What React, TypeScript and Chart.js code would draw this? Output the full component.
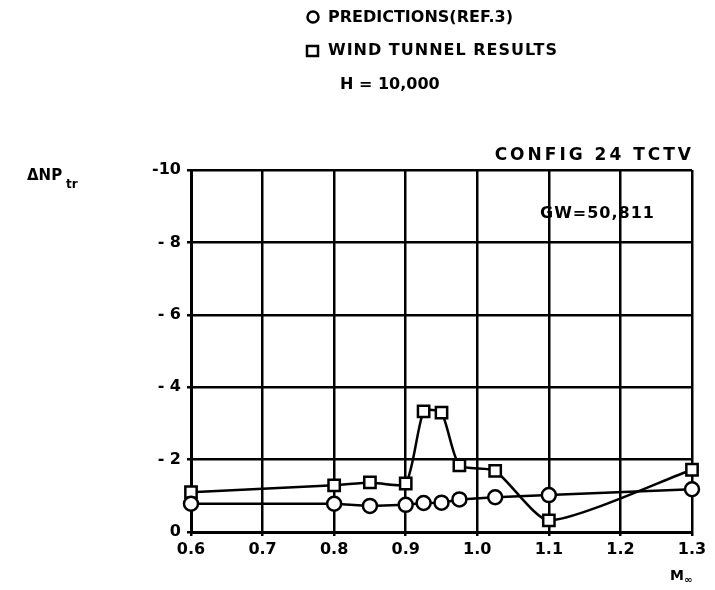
import React, { useEffect, useRef } from "react";
import { Chart, registerables } from "chart.js";

Chart.register(...registerables);

const machValues = [0.6, 0.8, 0.85, 0.9, 0.925, 0.95, 0.975, 1.025, 1.1, 1.3];
const predictions = [-0.78, -0.78, -0.72, -0.75, -0.8, -0.81, -0.9, -0.96, -1.02, -1.18];
const windTunnel = [-1.1, -1.29, -1.37, -1.34, -3.33, -3.3, -1.84, -1.69, -0.32, -1.72];
const yTickLabels: Record<string, string> = { "-10": "-10", "-8": "- 8", "-6": "- 6", "-4": "- 4", "-2": "- 2", "0": "0" };
const xTickLabels = ["0.6", "0.7", "0.8", "0.9", "1.0", "1.1", "1.2", "1.3"];

const FONT = '"DejaVu Sans", sans-serif';

const textPlugin = {
  id: "texts",
  afterDraw(chart: any) {
    const ctx = chart.ctx;
    ctx.save();
    ctx.fillStyle = "#000";
    ctx.strokeStyle = "#000";
    ctx.textBaseline = "middle";
    ctx.textAlign = "left";
    ctx.font = `bold 16px ${FONT}`;
    // legend
    ctx.lineWidth = 2.5;
    ctx.beginPath();
    ctx.arc(313, 17, 5.5, 0, Math.PI * 2);
    ctx.stroke();
    ctx.letterSpacing = "0px";
    ctx.fillText("PREDICTIONS(REF.3)", 328, 18);
    ctx.strokeRect(307, 46, 11, 10);
    ctx.letterSpacing = "1px";
    ctx.fillText("WIND TUNNEL RESULTS", 328, 51);
    ctx.letterSpacing = "0px";
    ctx.fillText("H = 10,000", 340, 85);
    // annotations
    ctx.font = `bold 17px ${FONT}`;
    ctx.letterSpacing = "3px";
    ctx.textAlign = "right";
    ctx.fillText("CONFIG 24 TCTV", 694, 156);
    ctx.textAlign = "left";
    ctx.font = `bold 16px ${FONT}`;
    ctx.letterSpacing = "1px";
    ctx.fillText("GW=50,811", 540, 214);
    ctx.letterSpacing = "0px";
    // axis titles
    ctx.font = `bold 15px ${FONT}`;
    ctx.fillText("ΔNP", 27, 176);
    ctx.font = `bold 12px ${FONT}`;
    ctx.fillText("tr", 66, 185);
    ctx.font = `bold 14px ${FONT}`;
    ctx.fillText("M", 670, 576);
    ctx.font = `bold 10px ${FONT}`;
    ctx.fillText("∞", 684, 580);
    ctx.restore();
  },
};

export default function App() {
  const ref = useRef<HTMLCanvasElement | null>(null);
  useEffect(() => {
    document.body.style.margin = "0";
    const canvas = ref.current;
    if (!canvas) return;
    const chart = new Chart(canvas, {
      type: "scatter",
      data: {
        datasets: [
          {
            label: "PREDICTIONS(REF.3)",
            data: machValues.map((x, i) => ({ x, y: predictions[i] })),
            showLine: true,
            clip: false,
            borderColor: "#000",
            borderWidth: 2.5,
            pointStyle: "circle",
            pointRadius: 7,
            pointBorderWidth: 2.5,
            pointBackgroundColor: "#fff",
            pointBorderColor: "#000",
            tension: 0,
          },
          {
            label: "WIND TUNNEL RESULTS",
            data: machValues.map((x, i) => ({ x, y: windTunnel[i] })),
            showLine: true,
            clip: false,
            borderColor: "#000",
            borderWidth: 2.5,
            pointStyle: "rect",
            pointRadius: 8,
            pointBorderWidth: 2.5,
            pointBackgroundColor: "#fff",
            pointBorderColor: "#000",
            tension: 0.2,
          },
        ],
      },
      options: {
        responsive: false,
        animation: false,
        events: [],
        layout: { padding: { top: 170, right: 23, left: 0, bottom: 0 } },
        plugins: { legend: { display: false }, tooltip: { enabled: false } },
        scales: {
          x: {
            type: "linear",
            min: 0.6,
            max: 1.3,
            afterFit: (s: any) => { s.height = 58; },
            afterBuildTicks: (s: any) => {
              s.ticks = xTickLabels.map((t) => ({ value: parseFloat(t) }));
            },
            ticks: {
              color: "#000",
              font: { family: FONT, size: 16, weight: "bold" },
              padding: 4,
              callback: (v: any, i: number) => xTickLabels[i],
            },
            grid: { color: "#000", lineWidth: 2.5, tickLength: 4 },
            border: { color: "#000", width: 3 },
          },
          y: {
            type: "linear",
            min: -10,
            max: 0,
            reverse: true,
            afterFit: (s: any) => { s.width = 191; },
            ticks: {
              stepSize: 2,
              color: "#000",
              font: { family: FONT, size: 16, weight: "bold" },
              padding: 6,
              callback: (v: any) => yTickLabels[String(Math.round(Number(v)))] ?? "",
            },
            grid: { color: "#000", lineWidth: 2.5, tickLength: 4 },
            border: { color: "#000", width: 3 },
          },
        },
      },
      plugins: [textPlugin],
    } as any);
    return () => chart.destroy();
  }, []);
  return (
    <div style={{ position: "absolute", left: 0, top: 0, width: 715, height: 590, background: "#fff" }}>
      <canvas ref={ref} width={715} height={590} style={{ width: 715, height: 590 }} />
    </div>
  );
}
